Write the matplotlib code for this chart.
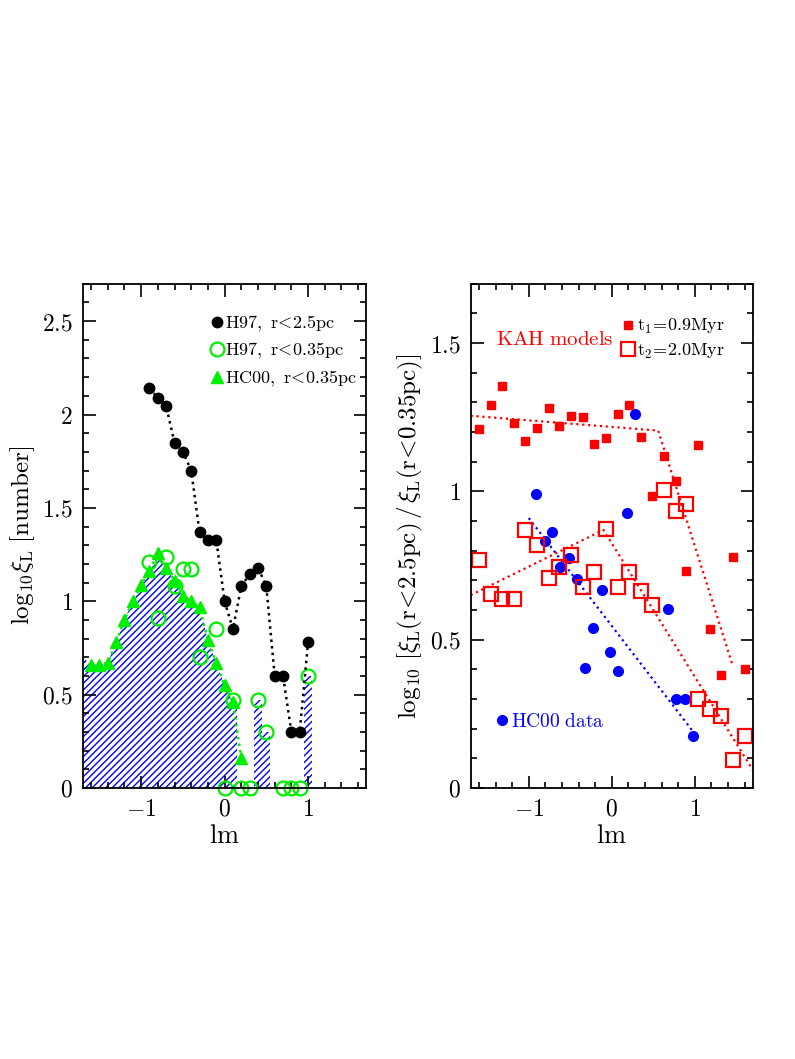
import numpy as np
import matplotlib
matplotlib.use('Agg')
import matplotlib.pyplot as plt
from matplotlib.ticker import MultipleLocator, FuncFormatter
from matplotlib.lines import Line2D

plt.rcParams['mathtext.fontset'] = 'cm'
plt.rcParams['font.family'] = ['DejaVu Serif']
plt.rcParams['hatch.linewidth'] = 1.0

# ---- left panel: luminosity functions ----
h97_big_x = [-0.9, -0.8, -0.7, -0.6, -0.5, -0.4, -0.3, -0.2, -0.1, 0.0,
             0.1, 0.2, 0.3, 0.4, 0.5, 0.6, 0.7, 0.8, 0.9, 1.0]
h97_big_y = [2.14, 2.09, 2.045, 1.85, 1.80, 1.70, 1.37, 1.33, 1.33, 1.00,
             0.85, 1.08, 1.145, 1.18, 1.08, 0.60, 0.60, 0.30, 0.30, 0.78]

h97_small_x = [-0.9, -0.8, -0.7, -0.6, -0.5, -0.4, -0.3, -0.1, 0.0, 0.1,
               0.2, 0.3, 0.4, 0.5, 0.7, 0.8, 0.9, 1.0]
h97_small_y = [1.21, 0.91, 1.235, 1.08, 1.175, 1.175, 0.70, 0.85, 0.0, 0.47,
               0.0, 0.0, 0.47, 0.30, 0.0, 0.0, 0.0, 0.60]

hc00_x = [-1.6, -1.5, -1.4, -1.3, -1.2, -1.1, -1.0, -0.9, -0.8, -0.7,
          -0.6, -0.5, -0.4, -0.3, -0.2, -0.1, 0.0, 0.1, 0.2]
hc00_y = [0.66, 0.66, 0.67, 0.78, 0.90, 1.00, 1.085, 1.16, 1.26, 1.18,
          1.11, 1.03, 1.00, 0.97, 0.79, 0.67, 0.55, 0.46, 0.16]

# hatched area: outline under HC00 curve + separate bins
hatch_x = [-1.7, -1.6, -1.5, -1.4, -1.3, -1.2, -1.1, -1.0, -0.9, -0.8, -0.7,
           -0.6, -0.5, -0.4, -0.3, -0.2, -0.1, 0.0, 0.1, 0.15]
hatch_y = [0.70, 0.66, 0.66, 0.67, 0.78, 0.90, 1.00, 1.085, 1.16, 1.26, 1.18,
           1.11, 1.03, 1.00, 0.97, 0.79, 0.67, 0.55, 0.46, 0.45]
hatch_bin_x = [0.4, 0.5, 1.0]
hatch_bin_h = [0.47, 0.30, 0.60]

# ---- right panel: ratios ----
kah_x = [-1.60, -1.46, -1.32, -1.18, -1.04, -0.90, -0.76, -0.63, -0.49, -0.35,
         -0.21, -0.07, 0.07, 0.21, 0.35, 0.49, 0.63, 0.77, 0.90, 1.04,
         1.18, 1.32, 1.46, 1.60]
kah_t1 = [1.21, 1.29, 1.355, 1.23, 1.17, 1.215, 1.28, 1.22, 1.255, 1.25,
          1.16, 1.18, 1.26, 1.29, 1.185, 0.985, 1.12, 1.035, 0.73, 1.155,
          0.535, 0.38, 0.78, 0.40]
kah_t2 = [0.768, 0.655, 0.638, 0.638, 0.87, 0.819, 0.708, 0.745, 0.785, 0.678,
          0.728, 0.873, 0.678, 0.728, 0.663, 0.618, 1.005, 0.934, 0.958, 0.301,
          0.267, 0.242, 0.095, 0.174]

hc_x = [-0.91, -0.81, -0.72, -0.62, -0.52, -0.42, -0.32, -0.22, -0.12, -0.02,
        0.08, 0.18, 0.28, 0.68, 0.78, 0.88, 0.98]
hc_y = [0.99, 0.833, 0.864, 0.745, 0.774, 0.706, 0.404, 0.54, 0.668, 0.457,
        0.394, 0.926, 1.262, 0.604, 0.30, 0.30, 0.174]

fit_hc_x = [-1.0, 0.98]
fit_hc_y = [0.91, 0.19]
fit_t1_x = [-1.7, 0.56, 1.46]
fit_t1_y = [1.255, 1.205, 0.41]
fit_t2_x = [-1.7, -0.1, 1.7]
fit_t2_y = [0.65, 0.87, 0.06]

fig = plt.figure(figsize=(7.95, 10.59), dpi=100)
ax1 = fig.add_axes([0.104, 0.256, 0.357, 0.476])
ax2 = fig.add_axes([0.592, 0.256, 0.355, 0.476])

fmt = FuncFormatter(lambda v, p: '$%g$' % round(v, 2))
for ax in (ax1, ax2):
    ax.set_xlim(-1.7, 1.7)
    ax.xaxis.set_major_locator(MultipleLocator(1))
    ax.xaxis.set_minor_locator(MultipleLocator(0.2))
    ax.yaxis.set_major_locator(MultipleLocator(0.5))
    ax.yaxis.set_minor_locator(MultipleLocator(0.1))
    ax.xaxis.set_major_formatter(fmt)
    ax.yaxis.set_major_formatter(fmt)
    ax.tick_params(which='both', direction='in', top=True, right=True, width=1.2)
    ax.tick_params(which='major', length=9, labelsize=17, pad=7)
    ax.tick_params(which='minor', length=4.5)
    for s in ax.spines.values():
        s.set_linewidth(1.3)
    ax.set_xlabel(r'$\mathrm{lm}$', fontsize=19, labelpad=2)

# left
ax1.set_ylim(0, 2.7)
ax1.fill_between(hatch_x, 0, hatch_y, facecolor='none', edgecolor='blue',
                 hatch='/////', linewidth=0)
ax1.bar(hatch_bin_x, hatch_bin_h, width=0.1, facecolor='none', edgecolor='blue',
        hatch='/////', linewidth=0)
ax1.plot(hc00_x, hc00_y, ':', color='#00ee00', lw=1.8)
ax1.plot(hc00_x, hc00_y, '^', color='#00ee00', ms=8, mec='#00ee00', clip_on=False)
ax1.plot(h97_small_x, h97_small_y, 'o', mfc='none', mec='#00ee00', mew=1.6, ms=10,
         clip_on=False)
ax1.plot(h97_big_x, h97_big_y, ':', color='black', lw=1.8)
ax1.plot(h97_big_x, h97_big_y, 'o', color='black', ms=7.5)
ax1.set_ylabel(r'$\mathrm{log}_{10}\xi_{\mathrm{L}}\ [\mathrm{number}]$', fontsize=18)

h1 = [Line2D([], [], ls='none', marker='o', color='black', ms=7.5),
      Line2D([], [], ls='none', marker='o', mfc='none', mec='#00ee00', mew=1.6, ms=10),
      Line2D([], [], ls='none', marker='^', color='#00ee00', ms=8)]
l1 = [r'$\mathrm{H97,\ r\!<\!2.5pc}$', r'$\mathrm{H97,\ r\!<\!0.35pc}$',
      r'$\mathrm{HC00,\ r\!<\!0.35pc}$']
ax1.legend(h1, l1, loc='upper right', bbox_to_anchor=(1.01, 0.966), frameon=False,
           fontsize=13, handlelength=0.6, handletextpad=0.15, labelspacing=0.42,
           borderaxespad=0.3)

# right
ax2.set_ylim(0, 1.7)
ax2.plot(fit_hc_x, fit_hc_y, ':', color='blue', lw=1.6)
ax2.plot(fit_t1_x, fit_t1_y, ':', color='red', lw=1.6)
ax2.plot(fit_t2_x, fit_t2_y, ':', color='red', lw=1.6)
ax2.plot(hc_x, hc_y, 'o', color='blue', ms=7)
ax2.plot(kah_x, kah_t1, 's', color='red', ms=5.5)
ax2.plot(kah_x, kah_t2, 's', mfc='none', mec='red', mew=1.6, ms=10)
ax2.set_ylabel(r'$\mathrm{log}_{10}\ [\xi_{\mathrm{L}}(\mathrm{r}\!<\!2.5\mathrm{pc})\,/\,'
               r'\xi_{\mathrm{L}}(\mathrm{r}\!<\!0.35\mathrm{pc})]$', fontsize=18)
ax2.text(0.09, 0.89, r'$\mathrm{KAH\ models}$', color='red', fontsize=15,
         transform=ax2.transAxes, va='center')

h2 = [Line2D([], [], ls='none', marker='s', color='red', ms=5.5),
      Line2D([], [], ls='none', marker='s', mfc='none', mec='red', mew=1.6, ms=10)]
l2 = [r'$\mathrm{t}_1\!\mathrm{=}\!\mathrm{0.9Myr}$', r'$\mathrm{t}_2\!\mathrm{=}\!\mathrm{2.0Myr}$']
leg2 = ax2.legend(h2, l2, loc='upper left', bbox_to_anchor=(0.5, 0.955), frameon=False,
                  fontsize=13, handlelength=0.6, handletextpad=0.2, labelspacing=0.3,
                  borderaxespad=0.2)
ax2.add_artist(leg2)
h3 = [Line2D([], [], ls='none', marker='o', color='blue', ms=7)]
ax2.legend(h3, [r'$\mathrm{HC00\ data}$'], loc='lower left', bbox_to_anchor=(0.05, 0.09),
           frameon=False, fontsize=14, labelcolor='blue', handlelength=0.6,
           handletextpad=0.15, borderaxespad=0.2)

fig.savefig('out.png', dpi=100)
